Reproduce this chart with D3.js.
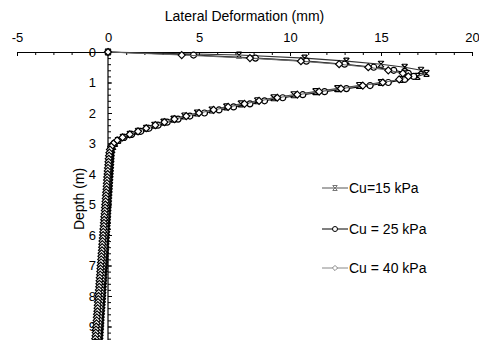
<!DOCTYPE html>
<html><head><meta charset="utf-8">
<script src="https://cdn.jsdelivr.net/npm/d3@7"></script>
<style>
html,body{margin:0;padding:0;background:#fff;overflow:hidden;}
svg{display:block;font-family:"Liberation Sans",Arial,sans-serif;}
</style></head>
<body>
<svg id="chart" width="479" height="340"></svg>
<script>
const depths = [0,0.1,0.2,0.3,0.4,0.5,0.6,0.7,0.8,0.9,
1.0,1.1,1.2,1.3,1.4,1.5,1.6,1.7,1.8,1.9,
2.0,2.1,2.2,2.3,2.4,2.5,2.6,2.7,2.8,2.9,
3.0,3.1,3.2,3.3,3.4,3.5,3.6,3.7,3.8,3.9,
4.0,4.1,4.2,4.3,4.4,4.5,4.6,4.7,4.8,4.9,
5.0,5.1,5.2,5.3,5.4,5.5,5.6,5.7,5.8,5.9,
6.0,6.1,6.2,6.3,6.4,6.5,6.6,6.7,6.8,6.9,
7.0,7.1,7.2,7.3,7.4,7.5,7.6,7.7,7.8,7.9,
8.0,8.1,8.2,8.3,8.4,8.5,8.6,8.7,8.8,8.9,
9.0,9.1,9.2,9.3,9.4,9.5,9.6,9.7,9.8,9.9,10.0];

const cu15 = [0,7.2,10.8,13.1,15.0,16.3,17.2,17.5,17.0,16.1,
15.0,13.8,12.6,11.4,10.2,9.1,8.2,7.3,6.5,5.7,
4.9,4.2,3.6,3.05,2.55,2.1,1.65,1.2,0.82,0.55,
0.38,0.28,0.23,0.2,0.19,0.18,0.17,0.16,0.15,0.14,
0.13,0.12,0.11,0.1,0.09,0.08,0.07,0.06,0.05,0.04,
0.03,0.02,0.01,0.0,-0.01,-0.02,-0.03,-0.04,-0.05,-0.06,
-0.07,-0.08,-0.09,-0.1,-0.11,-0.12,-0.13,-0.14,-0.15,-0.16,
-0.17,-0.18,-0.2,-0.21,-0.22,-0.23,-0.24,-0.25,-0.26,-0.27,
-0.28,-0.29,-0.3,-0.31,-0.33,-0.34,-0.35,-0.36,-0.37,-0.38,
-0.39,-0.4,-0.41,-0.42,-0.44,-0.45,-0.46,-0.47,-0.48,-0.49,-0.5];

const cu25 = [0,4.7,8.1,10.9,13.0,14.6,15.7,16.5,16.8,16.3,
15.4,14.4,13.1,11.9,10.7,9.6,8.6,7.8,6.9,6.1,
5.3,4.5,3.85,3.25,2.75,2.25,1.8,1.3,0.88,0.56,
0.34,0.21,0.15,0.12,0.1,0.09,0.08,0.07,0.06,0.05,
0.04,0.03,0.02,0.01,0.0,-0.01,-0.02,-0.03,-0.04,-0.05,
-0.06,-0.07,-0.08,-0.09,-0.1,-0.11,-0.12,-0.13,-0.14,-0.15,
-0.16,-0.17,-0.18,-0.19,-0.2,-0.21,-0.22,-0.23,-0.25,-0.26,
-0.27,-0.28,-0.29,-0.3,-0.31,-0.32,-0.34,-0.35,-0.36,-0.37,
-0.38,-0.39,-0.4,-0.42,-0.43,-0.44,-0.45,-0.46,-0.47,-0.49,
-0.5,-0.51,-0.52,-0.53,-0.55,-0.56,-0.57,-0.58,-0.59,-0.61,-0.62];

const cu40 = [0,4.05,7.8,10.6,12.7,14.3,15.4,16.2,16.5,16.0,
15.1,14.0,12.8,11.6,10.4,9.3,8.3,7.5,6.6,5.8,
5.0,4.3,3.65,3.1,2.6,2.1,1.65,1.2,0.8,0.5,
0.3,0.18,0.11,0.08,0.06,0.04,0.03,0.02,0.0,-0.01,
-0.02,-0.04,-0.05,-0.06,-0.07,-0.08,-0.1,-0.11,-0.12,-0.13,
-0.15,-0.16,-0.17,-0.18,-0.2,-0.21,-0.22,-0.23,-0.25,-0.26,
-0.27,-0.28,-0.3,-0.31,-0.32,-0.33,-0.35,-0.36,-0.37,-0.38,
-0.4,-0.41,-0.42,-0.43,-0.45,-0.46,-0.47,-0.48,-0.5,-0.51,
-0.52,-0.53,-0.55,-0.56,-0.57,-0.58,-0.6,-0.61,-0.62,-0.63,
-0.65,-0.66,-0.67,-0.68,-0.7,-0.71,-0.72,-0.73,-0.75,-0.76,-0.77];

const seriesNames = ["Cu=15 kPa", "Cu = 25 kPa", "Cu = 40 kPa"];
const xTicks = [-5, 0, 5, 10, 15, 20];
const yTicks = [0,1,2,3,4,5,6,7,8,9];

const svg = d3.select("#chart");
const x = d3.scaleLinear().domain([-5, 20]).range([17, 472]);
const y = d3.scaleLinear().domain([0, 10]).range([52, 357]);
const fmt = d => String(d);

// x axis (top)
const xMinor = d3.range(-5, 20.001, 1);
svg.append("g").attr("transform", `translate(0,${y(0)})`)
  .call(d3.axisTop(x).tickValues(xMinor).tickFormat("").tickSizeInner(-3).tickSizeOuter(0))
  .call(g => g.select(".domain").remove())
  .call(g => g.selectAll("line").attr("stroke", "#000"));
svg.append("g").attr("transform", `translate(0,${y(0)})`)
  .call(d3.axisTop(x).tickValues(xTicks).tickFormat(fmt).tickSizeInner(-4).tickSizeOuter(0).tickPadding(10))
  .call(g => g.select(".domain").attr("stroke", "#000").attr("stroke-width", 1.2))
  .call(g => g.selectAll("text").attr("font-size", 13).attr("fill", "#000").attr("font-family", "Liberation Sans, Arial, sans-serif"));

// y axis at x=0
const yMinor = d3.range(0, 10.001, 0.2);
svg.append("g").attr("transform", `translate(${x(0)},0)`)
  .call(d3.axisLeft(y).tickValues(yMinor).tickFormat("").tickSizeInner(-3).tickSizeOuter(0))
  .call(g => g.select(".domain").remove())
  .call(g => g.selectAll("line").attr("stroke", "#000"));
svg.append("g").attr("transform", `translate(${x(0)},0)`)
  .call(d3.axisLeft(y).tickValues(yTicks).tickFormat(fmt).tickSizeInner(-4).tickSizeOuter(0).tickPadding(12))
  .call(g => g.select(".domain").attr("stroke", "#000").attr("stroke-width", 1.2).attr("d", `M0,${y(0)}V${y(10)}`))
  .call(g => g.selectAll("text").attr("font-size", 13).attr("fill", "#000").attr("font-family", "Liberation Sans, Arial, sans-serif"));

// titles
svg.append("text").attr("x", (x(-5) + x(20)) / 2).attr("y", 21).attr("text-anchor", "middle")
  .attr("font-size", 14).text("Lateral Deformation (mm)");
svg.append("text").attr("transform", "translate(84,199) rotate(-90)").attr("text-anchor", "middle")
  .attr("font-size", 14).text("Depth (m)");

const line = d3.line().x(d => x(d[0])).y(d => y(d[1]));
const xPath = "M-3,-3L3,3M3,-3L-3,3M-2.5,-3L2.5,-3M-2.5,3L2.5,3";
const rhomb = "M0,-3.5L3.5,0L0,3.5L-3.5,0Z";

const series = [
  {name: seriesNames[0], vals: cu15, color: "#333", marker: "x"},
  {name: seriesNames[1], vals: cu25, color: "#000", marker: "circle"},
  {name: seriesNames[2], vals: cu40, color: "#666", marker: "diamond"}
];

function drawMarker(g, type, mstroke) {
  if (type === "x") {
    g.append("path").attr("d", xPath).attr("fill", "none").attr("stroke", mstroke).attr("stroke-width", 1.1);
  } else if (type === "circle") {
    g.append("circle").attr("r", 3).attr("fill", "#fff").attr("stroke", mstroke).attr("stroke-width", 1.2);
  } else {
    g.append("path").attr("d", rhomb).attr("fill", "#fff").attr("stroke", mstroke).attr("stroke-width", 1.2);
  }
}

series.forEach(s => {
  const pts = depths.map((d, i) => [s.vals[i], d]);
  svg.append("path").datum(pts).attr("d", line).attr("fill", "none")
    .attr("stroke", s.color).attr("stroke-width", 1.1);
  const mg = svg.append("g");
  pts.forEach(p => {
    const g = mg.append("g").attr("transform", `translate(${x(p[0])},${y(p[1])})`);
    drawMarker(g, s.marker, "#000");
  });
});

// legend
const legY = [188, 229, 268];
const legColors = ["#555", "#000", "#888"];
series.forEach((s, i) => {
  const g = svg.append("g").attr("transform", `translate(0,${legY[i]})`);
  g.append("line").attr("x1", 322).attr("x2", 348).attr("y1", 0).attr("y2", 0)
    .attr("stroke", legColors[i]).attr("stroke-width", 1);
  const m = g.append("g").attr("transform", "translate(335,0)");
  if (s.marker === "x") {
    m.append("path").attr("d", "M-2.5,-2.5L2.5,2.5M2.5,-2.5L-2.5,2.5M-2,-2.5L2,-2.5M-2,2.5L2,2.5")
      .attr("fill", "none").attr("stroke", "#777").attr("stroke-width", 1);
  } else if (s.marker === "circle") {
    m.append("circle").attr("r", 2.5).attr("fill", "#fff").attr("stroke", "#000").attr("stroke-width", 1);
  } else {
    m.append("path").attr("d", "M0,-2.6L2.6,0L0,2.6L-2.6,0Z").attr("fill", "#fff")
      .attr("stroke", "#888").attr("stroke-width", 1);
  }
  g.append("text").attr("x", 349).attr("y", 0).attr("dy", "0.35em").attr("font-size", 14)
    .attr("fill", "#000").text(s.name);
});
</script>
</body></html>
